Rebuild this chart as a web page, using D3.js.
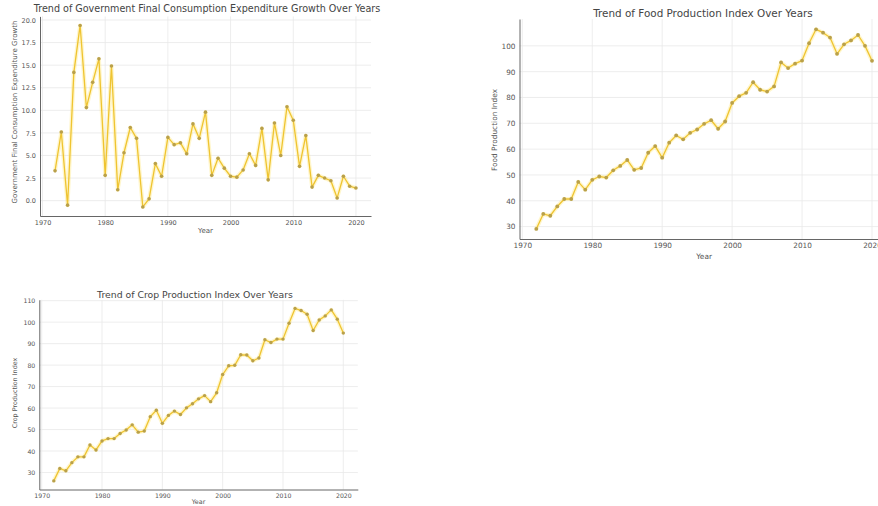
<!DOCTYPE html>
<html>
<head>
<meta charset="utf-8">
<script src="https://cdn.jsdelivr.net/npm/d3@7"></script>
<style>
  html, body { margin: 0; padding: 0; background: #ffffff; }
  svg { display: block; font-family: "DejaVu Sans", sans-serif; }
</style>
</head>
<body>
<svg id="chart" width="878" height="506"></svg>
<script>
// ---------------- DATA ----------------
const years = d3.range(1972, 2021);

const govGrowth = [
  3.3, 7.6, -0.5, 14.2, 19.4, 10.3, 13.1, 15.7, 2.8, 14.9,
  1.2, 5.3, 8.1, 6.9, -0.7, 0.2, 4.1, 2.7, 7.0, 6.2,
  6.4, 5.2, 8.5, 6.9, 9.8, 2.8, 4.7, 3.6, 2.7, 2.6,
  3.4, 5.2, 3.9, 8.0, 2.3, 8.6, 5.0, 10.4, 8.9, 3.8,
  7.2, 1.5, 2.8, 2.5, 2.2, 0.3, 2.7, 1.6, 1.4
];

const foodIndex = [
  29.1, 34.9, 34.2, 37.8, 40.7, 40.7, 47.3, 44.3, 48.1, 49.4,
  49.0, 51.8, 53.5, 55.8, 52.0, 52.7, 58.6, 61.2, 56.7, 62.5,
  65.3, 63.8, 66.3, 67.6, 69.8, 71.2, 67.9, 70.7, 77.9, 80.5,
  81.8, 85.9, 83.0, 82.3, 84.3, 93.6, 91.4, 93.1, 94.3, 101.0,
  106.4, 105.1, 103.2, 96.9, 100.6, 102.1, 104.2, 100.0, 94.2
];

const cropIndex = [
  26.1, 31.9, 30.8, 34.6, 37.3, 37.3, 42.8, 40.5, 44.7, 45.8,
  45.8, 48.2, 49.8, 52.2, 48.8, 49.3, 56.0, 59.0, 52.9, 56.6,
  58.6, 57.0, 60.1, 62.0, 64.3, 65.8, 63.0, 67.1, 75.6, 79.7,
  79.9, 84.8, 84.7, 82.0, 83.3, 91.8, 90.5, 92.1, 92.1, 99.5,
  106.4, 105.4, 103.7, 96.1, 101.0, 102.9, 105.7, 101.4, 94.9
];

const xTicks = [1970, 1980, 1990, 2000, 2010, 2020];
const govTicks = [0, 2.5, 5, 7.5, 10, 12.5, 15, 17.5, 20];
const foodTicks = [30, 40, 50, 60, 70, 80, 90, 100];
const cropTicks = [30, 40, 50, 60, 70, 80, 90, 100, 110];

const titles = [
  "Trend of Government Final Consumption Expenditure Growth Over Years",
  "Trend of Food Production Index Over Years",
  "Trend of Crop Production Index Over Years"
];
const yLabels = [
  "Government Final Consumption Expenditure Growth",
  "Food Production Index",
  "Crop Production Index"
];
const xLabel = "Year";

// ---------------- DRAW ----------------
const svg = d3.select("#chart");

function panel(cfg) {
  const g = svg.append("g");
  const x = d3.scaleLinear().domain([1969.6, 2022.4]).range([cfg.left, cfg.right]);
  const y = d3.scaleLinear().domain(cfg.yDomain).range([cfg.bottom, cfg.top]);

  // grid
  g.append("g").selectAll("line").data(xTicks).join("line")
    .attr("x1", d => x(d)).attr("x2", d => x(d))
    .attr("y1", cfg.top).attr("y2", cfg.bottom)
    .attr("stroke", "#e8e8e8").attr("stroke-width", 0.8);
  g.append("g").selectAll("line").data(cfg.yTicks).join("line")
    .attr("x1", cfg.left).attr("x2", cfg.right)
    .attr("y1", d => y(d)).attr("y2", d => y(d))
    .attr("stroke", "#e8e8e8").attr("stroke-width", 0.8);

  // axes
  const xAxis = d3.axisBottom(x).tickValues(xTicks).tickFormat(d3.format("d"))
    .tickSize(0).tickPadding(cfg.tickPad);
  const yAxis = d3.axisLeft(y).tickValues(cfg.yTicks).tickFormat(cfg.yFormat)
    .tickSize(0).tickPadding(cfg.tickPad);

  const gx = g.append("g").attr("transform", `translate(0,${cfg.bottom})`).call(xAxis);
  const gy = g.append("g").attr("transform", `translate(${cfg.left},0)`).call(yAxis);
  [gx, gy].forEach(a => {
    a.select(".domain").attr("stroke", "#666").attr("stroke-width", 1);
    a.selectAll("text").attr("fill", "#555").attr("font-size", cfg.tickFont)
      .attr("font-family", "DejaVu Sans, sans-serif");
  });

  // line with soft halo
  const line = d3.line().x((d, i) => x(years[i])).y(d => y(d));
  g.append("path").datum(cfg.values).attr("d", line)
    .attr("fill", "none").attr("stroke", "rgba(255,228,110,0.35)")
    .attr("stroke-width", 4).attr("stroke-linejoin", "round");
  g.append("path").datum(cfg.values).attr("d", line)
    .attr("fill", "none").attr("stroke", "#efc431")
    .attr("stroke-width", 1.3).attr("stroke-linejoin", "round");
  g.append("g").selectAll("circle").data(cfg.values).join("circle")
    .attr("cx", (d, i) => x(years[i])).attr("cy", d => y(d))
    .attr("r", cfg.r).attr("fill", "#b9a04a");

  // title and labels
  g.append("text").attr("x", cfg.titleX).attr("y", cfg.titleY)
    .attr("text-anchor", "middle").attr("font-size", cfg.titleFont)
    .attr("fill", "#444").text(cfg.title);
  g.append("text").attr("x", (cfg.left + cfg.right) / 2).attr("y", cfg.xLabelY)
    .attr("text-anchor", "middle").attr("font-size", cfg.labelFont)
    .attr("fill", "#555").text(xLabel);
  g.append("text")
    .attr("transform", `translate(${cfg.yLabelX},${cfg.yLabelY}) rotate(-90)`)
    .attr("text-anchor", "middle").attr("font-size", cfg.labelFont)
    .attr("fill", "#555").text(cfg.yLabel);
}

panel({
  left: 40, right: 371, top: 16.4, bottom: 216,
  yDomain: [-1.7, 20.4], yTicks: govTicks, yFormat: d3.format(".1f"),
  values: govGrowth, title: titles[0], yLabel: yLabels[0],
  titleX: 207, titleY: 12, xLabelY: 233, yLabelX: 17, yLabelY: 112,
  titleFont: 9.6, tickFont: 6.5, labelFont: 7, tickPad: 4, r: 1.8
});

panel({
  left: 519.5, right: 888.8, top: 19, bottom: 239,
  yDomain: [25.2, 110.4], yTicks: foodTicks, yFormat: d3.format("d"),
  values: foodIndex, title: titles[1], yLabel: yLabels[1],
  titleX: 703, titleY: 17, xLabelY: 259, yLabelX: 497, yLabelY: 130,
  titleFont: 10.4, tickFont: 7.3, labelFont: 7.4, tickPad: 4, r: 1.9
});

panel({
  left: 39.3, right: 357.8, top: 299.8, bottom: 489.5,
  yDomain: [22.1, 110.4], yTicks: cropTicks, yFormat: d3.format("d"),
  values: cropIndex, title: titles[2], yLabel: yLabels[2],
  titleX: 195, titleY: 298, xLabelY: 503.5, yLabelX: 17, yLabelY: 393,
  titleFont: 9.3, tickFont: 6.2, labelFont: 6.4, tickPad: 4, r: 1.7
});
</script>
</body>
</html>
